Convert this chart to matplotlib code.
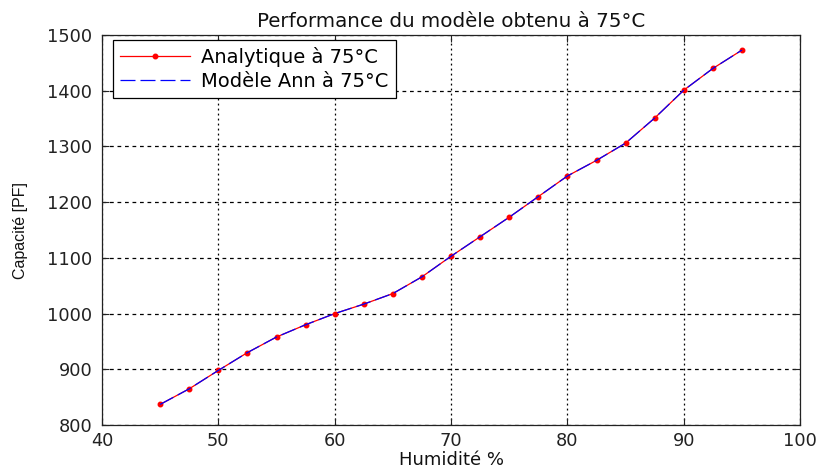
import matplotlib
matplotlib.use("Agg")
import matplotlib.pyplot as plt

plt.rcParams['font.family'] = ['DejaVu Sans']

humidite = [45, 47.5, 50, 52.5, 55, 57.5, 60, 62.5, 65, 67.5, 70,
            72.5, 75, 77.5, 80, 82.5, 85, 87.5, 90, 92.5, 95]
analytique = [837, 865, 898, 930, 958, 980, 1000, 1017, 1036, 1066, 1103,
              1138, 1173, 1210, 1247, 1275, 1306, 1351, 1401, 1440, 1473]
modele_ann = [837, 865, 898, 930, 958, 980, 1000, 1017, 1036, 1066, 1103,
              1138, 1173, 1210, 1247, 1275, 1306, 1351, 1401, 1440, 1473]

xticks = [40, 50, 60, 70, 80, 90, 100]
yticks = [800, 900, 1000, 1100, 1200, 1300, 1400, 1500]

fig = plt.figure(figsize=(8.19, 4.70), dpi=100)
ax = fig.add_axes([0.1245, 0.0957, 0.8525, 0.8298])

ax.plot(humidite, analytique, color='red', lw=0.9, marker='.', markersize=6.5,
        label='Analytique à 75°C')
ax.plot(humidite, modele_ann, color='blue', lw=0.9, dashes=(12, 4),
        label='Modèle Ann à 75°C')

ax.set_xlim(40, 100)
ax.set_ylim(800, 1500)
ax.set_xticks(xticks)
ax.set_yticks(yticks)
ax.tick_params(direction='in', top=True, right=True, labelsize=12.8, length=5,
               width=0.8, colors='#222222')
ax.tick_params(axis='y', pad=7)
ax.tick_params(axis='x', pad=5)

ax.xaxis.grid(True, color='black', linestyle=(0, (1.5, 2.5)), linewidth=0.9)
ax.yaxis.grid(True, color='black', linestyle=(0, (3, 3)), linewidth=0.9)
for s in ax.spines.values():
    s.set_linewidth(0.9)
    s.set_color('#222222')

ax.set_title('Performance du modèle obtenu à 75°C', fontsize=14.3, pad=6,
             color='#111111')
ax.set_xlabel('Humidité %', fontsize=13, labelpad=1, color='#111111')
ax.set_ylabel('Capacité [PF]', fontsize=11.5, labelpad=14, color='#111111',
              family=['Liberation Sans'])

leg = ax.legend(loc='upper left', fontsize=14, fancybox=False, framealpha=1,
                edgecolor='black', handlelength=3.6, borderpad=0.35,
                labelspacing=0.25, handletextpad=0.6, borderaxespad=0,
                bbox_to_anchor=(0.0158, 0.987))
leg.get_frame().set_linewidth(0.9)

fig.savefig('out.png', dpi=100)
